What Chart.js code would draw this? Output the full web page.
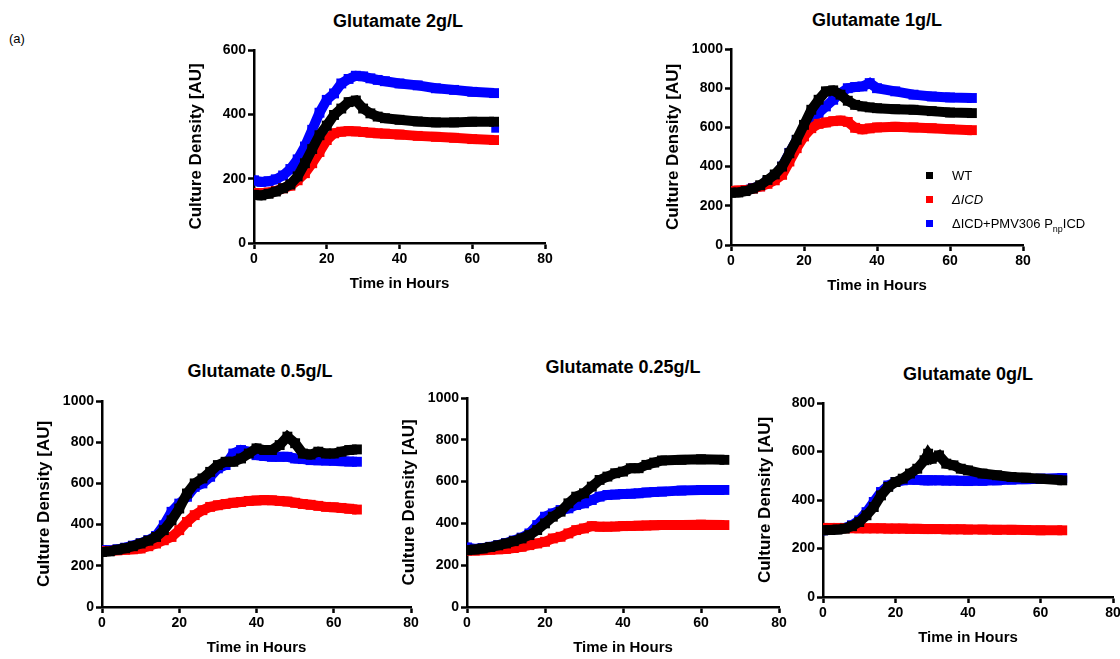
<!DOCTYPE html>
<html>
<head>
<meta charset="utf-8">
<script src="https://cdn.jsdelivr.net/npm/chart.js@4.4.1/dist/chart.umd.min.js"></script>
<style>
  body { margin: 0; background: #fff; width: 1120px; height: 659px; position: relative; overflow: hidden;
         font-family: "Liberation Sans", Arial, sans-serif; color: #000; }
  canvas { position: absolute; }
  .ptitle { position: absolute; width: 320px; text-align: center; font-weight: bold; font-size: 18px; line-height: 22px; }
  .tag { position: absolute; left: 9px; top: 31px; font-size: 13px; }
  .legend { position: absolute; left: 926px; top: 164px; font-size: 13px; line-height: 24px; }
  .legend div { white-space: nowrap; }
  .legend span.sw { display: inline-block; width: 7px; height: 7px; margin-right: 19px; vertical-align: 1px; }
  .legend sub { font-size: 9px; }
</style>
</head>
<body>
<div class="tag">(a)</div>

<div class="ptitle" style="left:238px;top:10px">Glutamate 2g/L</div>
<div class="ptitle" style="left:717px;top:9px">Glutamate 1g/L</div>
<div class="ptitle" style="left:100px;top:360px">Glutamate 0.5g/L</div>
<div class="ptitle" style="left:463px;top:356px">Glutamate 0.25g/L</div>
<div class="ptitle" style="left:808px;top:363px">Glutamate 0g/L</div>

<canvas id="c2g"></canvas>
<canvas id="c1g"></canvas>
<canvas id="c05g"></canvas>
<canvas id="c025g"></canvas>
<canvas id="c0g"></canvas>

<div class="legend">
  <div><span class="sw" style="background:#000"></span>WT</div>
  <div><span class="sw" style="background:#ff0000"></span><i>ΔICD</i></div>
  <div><span class="sw" style="background:#0000ff"></span>ΔICD+PMV306 P<sub>np</sub>ICD</div>
</div>

<script>
// --- Data (time in hours, culture density in AU) ---

const SERIES_NAMES = ['WT', 'ΔICD', 'ΔICD+PMV306 PnpICD'];
const X_TICKS = [0, 20, 40, 60, 80];

// Glutamate 2g/L
const H_2G = [0,2,4,6,8,10,12,14,16,18,20,22,24,26,28,30,32,34,36,40,45,50,55,60,66];
const WT_2G = [150,148,153,160,170,182,207,248,292,335,365,398,418,438,443,418,403,393,388,383,378,375,375,377,377];
const ICD_2G = [155,155,157,162,170,178,195,217,248,283,320,341,346,348,347,345,343,341,340,337,333,330,327,323,320];
const COMP_2G = [195,190,192,198,210,230,260,300,352,405,445,465,496,510,520,518,512,507,503,496,490,481,476,470,466];
// stray last reading of the complemented strain
const COMP_2G_TAIL_H = [66.3];
const COMP_2G_TAIL = [355];

// Glutamate 1g/L
const H_1G = [0,2,4,6,8,10,12,14,16,18,20,22,24,26,28,30,32,34,36,38,40,45,50,55,60,66];
const WT_1G = [267,268,275,288,305,332,360,400,468,537,613,690,741,784,789,767,736,715,707,702,698,693,690,683,676,673];
const ICD_1G = [275,278,280,288,298,312,330,358,426,494,554,596,618,625,632,635,628,598,590,595,600,603,600,596,591,586];
const COMP_1G = [275,275,280,290,300,325,355,400,470,535,588,639,673,707,741,775,800,806,809,826,800,784,767,758,753,750];

// Glutamate 0.5g/L
const H_05G = [0,2,4,6,8,10,12,14,16,18,20,22,24,26,28,30,32,34,36,38,40,42,44,46,48,50,52,54,56,58,60,62,64,66];
const WT_05G = [267,270,278,285,295,308,322,340,373,421,478,551,600,624,656,689,705,705,721,745,770,762,762,786,827,795,745,740,754,745,745,754,762,765];
const ICD_05G = [270,272,275,278,280,284,295,308,324,340,373,413,446,470,486,494,500,506,510,515,517,519,518,515,512,506,500,496,491,486,484,481,477,473];
const COMP_05G = [275,275,280,288,298,310,325,345,397,462,502,535,583,600,632,673,689,745,762,754,737,733,729,729,729,721,718,713,712,711,710,708,706,705];

// Glutamate 0.25g/L
const H_025G = [0,2,4,6,8,10,12,14,16,18,20,22,24,26,28,30,32,34,36,38,40,42,44,46,48,50,55,60,66];
const WT_025G = [272,275,280,287,295,304,315,328,344,368,400,432,456,496,528,544,576,608,624,640,648,664,664,680,691,701,704,707,704];
const ICD_025G = [270,270,272,274,276,278,282,288,296,304,312,328,336,352,368,376,387,384,384,385,387,388,389,390,391,392,392,394,392];
const COMP_025G = [285,278,282,288,296,306,318,332,352,392,432,448,464,472,488,496,512,528,536,538,541,542,544,548,550,552,557,560,560];

// Glutamate 0g/L
const H_0G = [0,2,4,6,8,10,12,14,16,18,20,22,24,26,28,29,30,32,34,36,38,40,44,48,52,56,60,66];
const WT_0G = [275,276,278,282,292,309,337,371,419,454,474,488,509,529,564,591,570,584,550,543,529,522,509,502,495,492,488,481];
const ICD_0G = [285,285,285,284,284,283,283,283,283,282,282,282,281,281,280,280,280,280,279,279,279,278,278,277,277,276,275,275];
const COMP_0G = [275,277,280,285,296,316,350,392,433,460,474,481,484,483,481,481,481,481,480,480,479,478,479,481,484,486,488,491];

const COLORS = ['#000000', '#ff0000', '#0000ff'];

// --- Layout helpers ---
const Y_BOX = 72;   // room left of the plot for tick labels + axis title
const X_BOX = 54;   // room under the plot
const PAD_TOP = 12;
const PAD_RIGHT = 16;

Chart.defaults.font.family = '"Liberation Sans", Arial, sans-serif';
Chart.defaults.font.size = 14;
Chart.defaults.font.weight = 'bold';
Chart.defaults.color = '#000';

function toPoints(hours, values) {
    return hours.map((h, i) => ({ x: h, y: values[i] }));
}

function seriesStyle(i) {
    return {
        borderColor: COLORS[i],
        backgroundColor: COLORS[i],
        borderWidth: 10,
        pointStyle: 'rect',
        pointRadius: 7,
        pointBorderWidth: 0,
        tension: 0,
        order: i
    };
}

function makePanel(id, hours, wt, icd, comp, yMax, area, extra) {
    const canvas = document.getElementById(id);
    const w = area.right - area.left + Y_BOX + PAD_RIGHT;
    const h = area.bottom - area.top + PAD_TOP + X_BOX;
    canvas.width = w;
    canvas.height = h;
    canvas.style.left = (area.left - Y_BOX) + 'px';
    canvas.style.top = (area.top - PAD_TOP) + 'px';

    const datasets = [wt, icd, comp].map((vals, i) => Object.assign({
        label: SERIES_NAMES[i],
        data: toPoints(hours, vals)
    }, seriesStyle(i)));

    if (extra) {
        datasets.push(Object.assign({
            label: SERIES_NAMES[2],
            data: toPoints(extra.hours, extra.values),
            showLine: false
        }, seriesStyle(2), { pointRadius: 5.5 }));
    }

    const axisStyle = {
        border: { display: true, color: '#000', width: 2.5 },
        grid: { display: true, drawOnChartArea: false, drawTicks: true, tickLength: 6, tickWidth: 2.5, color: '#000' }
    };

    new Chart(canvas, {
        type: 'line',
        data: { datasets: datasets },
        options: {
            responsive: false,
            animation: false,
            layout: { padding: { top: PAD_TOP, right: PAD_RIGHT, left: 0, bottom: 0 } },
            plugins: { legend: { display: false }, tooltip: { enabled: false } },
            scales: {
                x: Object.assign({
                    type: 'linear', min: 0, max: 80,
                    afterBuildTicks: s => { s.ticks = X_TICKS.map(v => ({ value: v })); },
                    ticks: { padding: 2, callback: v => String(v) },
                    title: { display: true, text: 'Time in Hours', font: { size: 15, weight: 'bold' }, padding: { top: 4, bottom: 4 } },
                    afterFit: s => { s.height = X_BOX; }
                }, axisStyle),
                y: Object.assign({
                    min: 0, max: yMax,
                    ticks: { stepSize: 200, padding: 2, callback: v => String(v) },
                    title: { display: true, text: 'Culture Density [AU]', font: { size: 17, weight: 'bold' }, padding: { top: 4, bottom: 4 } },
                    afterFit: s => { s.width = Y_BOX; }
                }, axisStyle)
            }
        }
    });
}

makePanel('c2g', H_2G, WT_2G, ICD_2G, COMP_2G, 600, { left: 254, right: 545, top: 50, bottom: 243 },
          { hours: COMP_2G_TAIL_H, values: COMP_2G_TAIL });
makePanel('c1g', H_1G, WT_1G, ICD_1G, COMP_1G, 1000, { left: 731, right: 1023, top: 49, bottom: 245 });
makePanel('c05g', H_05G, WT_05G, ICD_05G, COMP_05G, 1000, { left: 102, right: 411, top: 401, bottom: 607 });
makePanel('c025g', H_025G, WT_025G, ICD_025G, COMP_025G, 1000, { left: 467, right: 779, top: 398, bottom: 607 });
makePanel('c0g', H_0G, WT_0G, ICD_0G, COMP_0G, 800, { left: 823, right: 1113, top: 403, bottom: 597 });
</script>
</body>
</html>
